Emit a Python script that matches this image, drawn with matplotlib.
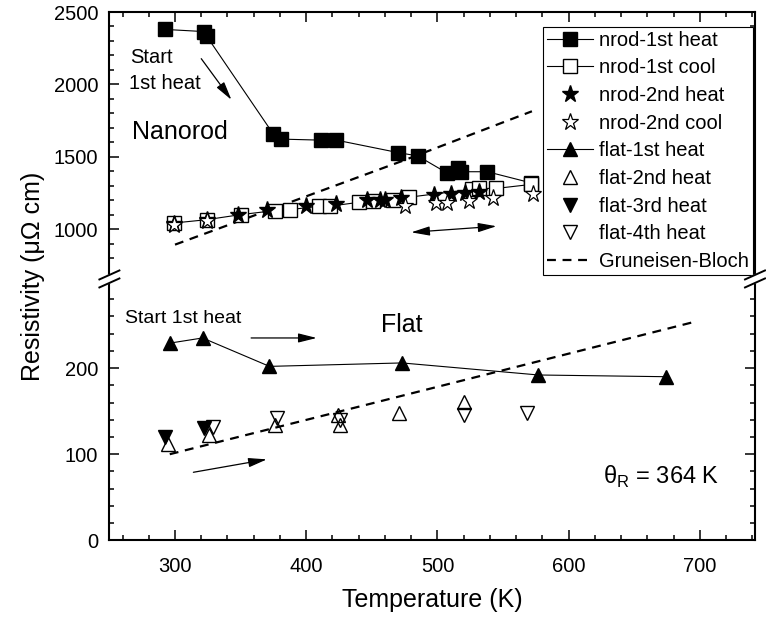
import numpy as np
import matplotlib
matplotlib.use("Agg")
import matplotlib.pyplot as plt
from matplotlib.ticker import FixedLocator, MultipleLocator, FuncFormatter

plt.rcParams["font.family"] = ["Liberation Sans", "DejaVu Sans"]
plt.rcParams["mathtext.fontset"] = "custom"
plt.rcParams["mathtext.rm"] = "Liberation Sans"

# nanorod, 1st heat (filled squares, joined)
nrod_h1_T = [292, 322, 324, 375, 381, 411, 423, 470, 485, 507, 516, 518, 538, 571]
nrod_h1_R = [2380, 2365, 2335, 1657, 1623, 1616, 1616, 1530, 1507, 1391, 1426, 1398, 1398, 1322]

# nanorod, 1st cool (open squares, joined)
nrod_c1_T = [299, 324, 350, 376, 388, 410, 418, 440, 451, 466, 478, 526, 532, 545, 571]
nrod_c1_R = [1044, 1067, 1102, 1130, 1137, 1160, 1160, 1187, 1194, 1201, 1222, 1276, 1283, 1283, 1310]

# nanorod, 2nd heat (filled stars)
nrod_h2_T = [299, 324, 348, 370, 400, 423, 446, 456, 460, 472, 497, 510, 521, 532]
nrod_h2_R = [1037, 1067, 1102, 1132, 1160, 1178, 1201, 1206, 1206, 1218, 1236, 1245, 1252, 1259]

# nanorod, 2nd cool (open stars)
nrod_c2_T = [299, 324, 475, 499, 507, 524, 542, 573]
nrod_c2_R = [1032, 1060, 1160, 1183, 1183, 1199, 1218, 1245]

# flat film
flat_h1_T = [296, 321, 372, 473, 577, 674]
flat_h1_R = [229, 235, 202, 206, 192, 190]
flat_h2_T = [295, 326, 376, 424, 426, 471, 520]
flat_h2_R = [112, 122, 134, 145, 134, 148, 161]
flat_h3_T = [292, 322]
flat_h3_R = [120, 130]
flat_h4_T = [329, 378, 426, 520, 568]
flat_h4_R = [132, 142, 140, 145, 148]

# Gruneisen-Bloch fits
gb_rod_T = [300, 474, 572]
gb_rod_R = [895, 1475, 1815]
gb_flat_T = [296, 450, 694]
gb_flat_R = [100, 159, 253]

# broken y axis: value breakpoints and their pixel heights
brk_val = [-1000, 0, 300, 700, 2500, 10000]
brk_pix = [-861.0, 0, 258.3, 267.4, 528.3, 528.3 + 7500 * 0.14494]


def fwd(v):
    return np.interp(v, brk_val, brk_pix)


def inv(p):
    return np.interp(p, brk_pix, brk_val)


fig = plt.figure(figsize=(7.66, 6.2), dpi=100)
ax = fig.add_axes([109.4 / 766, 79.7 / 620, 645.6 / 766, 528.3 / 620])
ax.set_yscale("function", functions=(fwd, inv))
ax.set_xlim(250, 742)
ax.set_ylim(0, 2500)

lw = 0.8
ax.plot(nrod_h1_T, nrod_h1_R, "-s", color="k", lw=lw, ms=9.5, mfc="k", mec="k",
        label="nrod-1st heat", zorder=3)
ax.plot(nrod_c1_T, nrod_c1_R, "-s", color="k", lw=lw, ms=9.5, mfc="white", mec="k",
        mew=1.0, label="nrod-1st cool", zorder=3)
ax.plot(nrod_h2_T, nrod_h2_R, "*", ms=12.5, mfc="k", mec="k", label="nrod-2nd heat", zorder=4)
ax.plot(nrod_c2_T, nrod_c2_R, "*", ms=12.5, mfc="white", mec="k", mew=0.9,
        label="nrod-2nd cool", zorder=4)
ax.plot(flat_h1_T, flat_h1_R, "-^", color="k", lw=lw, ms=10, mfc="k", mec="k",
        label="flat-1st heat", zorder=3)
ax.plot(flat_h2_T, flat_h2_R, "^", ms=10, mfc="none", mec="k", mew=1.0,
        label="flat-2nd heat", zorder=4)
ax.plot(flat_h3_T, flat_h3_R, "v", ms=10, mfc="k", mec="k", label="flat-3rd heat", zorder=3)
ax.plot(flat_h4_T, flat_h4_R, "v", ms=10, mfc="none", mec="k", mew=1.0,
        label="flat-4th heat", zorder=4)
ax.plot(gb_flat_T, gb_flat_R, color="k", lw=1.6, dashes=(4, 3), label="Gruneisen-Bloch", zorder=2)
ax.plot(gb_rod_T, gb_rod_R, color="k", lw=1.6, dashes=(4, 3), zorder=2)

# annotations
ax.text(266, 2185, "Start", fontsize=14.5, va="center", ha="left")
ax.text(265, 2010, "1st heat", fontsize=14.5, va="center", ha="left")
ax.text(267, 1674, "Nanorod", fontsize=18, va="center", ha="left")
ax.text(262, 258, "Start 1st heat", fontsize=14, va="center", ha="left")
ax.text(457, 250, "Flat", fontsize=18, va="center", ha="left")
ax.text(626, 74, "θ$_\\mathregular{R}$ = 364 K", fontsize=17, va="center", ha="left")

arr = dict(arrowstyle="-|>,head_length=0.8,head_width=0.2", lw=0.9, color="k",
           shrinkA=0, shrinkB=0, mutation_scale=14)
dbl = dict(arrowstyle="<|-|>,head_length=0.8,head_width=0.2", lw=0.9, color="k",
           shrinkA=0, shrinkB=0, mutation_scale=14)
ax.annotate("", xy=(343, 1894), xytext=(320, 2178), arrowprops=arr)
ax.annotate("", xy=(545, 1022), xytext=(480, 980), arrowprops=dbl)
ax.annotate("", xy=(408, 235), xytext=(358, 235), arrowprops=arr)
ax.annotate("", xy=(370, 94), xytext=(314, 79), arrowprops=arr)

# ticks
ax.xaxis.set_major_locator(MultipleLocator(100))
ax.xaxis.set_minor_locator(MultipleLocator(20))
ax.yaxis.set_major_locator(FixedLocator([0, 100, 200, 1000, 1500, 2000, 2500]))
minor_y = [v for v in range(20, 300, 20) if v % 100] + \
          [v for v in range(800, 2500, 100) if v % 500]
ax.yaxis.set_minor_locator(FixedLocator(minor_y))
ax.yaxis.set_major_formatter(FuncFormatter(lambda v, p: f"{v:.0f}"))
ax.tick_params(which="both", direction="in", top=True, right=True, width=1.1,
               labelsize=14.5)
ax.tick_params(which="major", length=7)
ax.tick_params(which="minor", length=3.5)
ax.tick_params(axis="y", pad=8)
ax.tick_params(axis="x", pad=12)
for s in ax.spines.values():
    s.set_linewidth(1.5)

ax.set_xlabel("Temperature (K)", fontsize=18, labelpad=9)
ax.set_ylabel("Resistivity (μΩ cm)", fontsize=18, labelpad=6)

# break marks on both spines
ymid = (258.3 + 267.4) / 2 / 528.3
px = 1 / 645.6
py = 1 / 528.3
for x0 in (0.0, 1.0):
    gap = [[x0 - 10 * px, ymid - 10 * py], [x0 + 10 * px, ymid - 1 * py],
           [x0 + 10 * px, ymid + 7 * py], [x0 - 10 * px, ymid - 2 * py]]
    ax.fill([g[0] for g in gap], [g[1] for g in gap], color="white",
            transform=ax.transAxes, clip_on=False, zorder=6)
    for dy in (-6, 2):
        ax.plot([x0 - 10 * px, x0 + 10 * px], [ymid + (dy - 4) * py, ymid + (dy + 5) * py],
                color="k", lw=1.4, transform=ax.transAxes, clip_on=False, zorder=7)

leg = ax.legend(loc="upper right", bbox_to_anchor=(0.997, 0.972), borderaxespad=0,
                fontsize=14.5, numpoints=1, handlelength=2.3, handletextpad=0.3,
                labelspacing=0.43, borderpad=0.2, fancybox=False, framealpha=1,
                edgecolor="k")
leg.get_frame().set_linewidth(0.8)

fig.savefig("out.png", dpi=100)
